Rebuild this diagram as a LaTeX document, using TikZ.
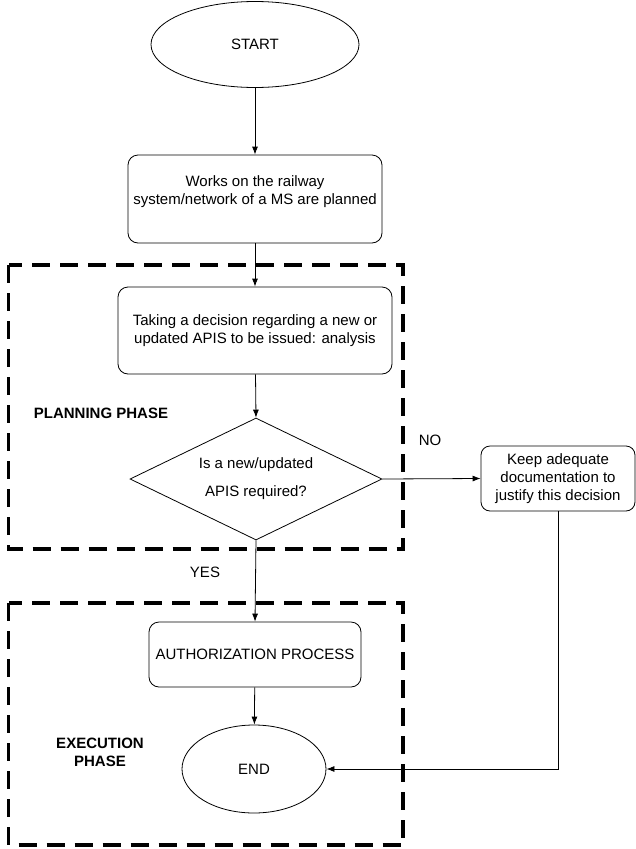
\documentclass[tikz,border=0pt]{standalone}
\usepackage{fontspec}
\setmainfont{Liberation Sans}
\usetikzlibrary{shapes.geometric,arrows.meta}
\begin{document}
\begin{tikzpicture}[x=1pt,y=-1pt,
  every node/.style={font=\fontsize{15}{18}\selectfont, inner sep=0pt},
  flowline/.style={line width=0.8pt},
  arr/.style={flowline,-{Latex[length=8pt,width=6pt]}},
  proc/.style={draw, line width=0.8pt, rounded corners=10pt, align=center},
  term/.style={draw, line width=0.8pt, ellipse},
  decide/.style={draw, line width=0.8pt, diamond, align=center},
  phase/.style={draw, line width=3.5pt, dash pattern=on 18pt off 10pt},
  lbl/.style={font=\bfseries\fontsize{15}{18}\selectfont, align=center}]
\useasboundingbox (0,0) rectangle (636,849);
\fill[white] (0,0) rectangle (636,849);

% phase frames
\draw[phase] (8.5,265) rectangle (403,549);
\draw[phase] (8.5,603) rectangle (403,845);

\node[term, minimum width=208pt, minimum height=86pt] (start) at (255,44.5) {START};
\node[proc, minimum width=254pt, minimum height=88pt] (works) at (255,199) {Works on the railway\\system/network of a MS are planned\\\mbox{}};
\node[proc, minimum width=274pt, minimum height=87pt] (taking) at (255,330.5) {Taking a decision regarding a new or\\updated APIS to be issued: analysis};
\node[decide, minimum width=252pt, minimum height=122pt, aspect=2.07] (dec) at (256,479) {Is a new/updated\\[10pt]APIS required?};
\node[proc, minimum width=154pt, minimum height=65pt, rounded corners=9pt] (keep) at (558,478.5) {Keep adequate\\documentation to\\justify this decision};
\node[proc, minimum width=212pt, minimum height=65pt] (auth) at (255,654.5) {AUTHORIZATION PROCESS};
\node[term, minimum width=144pt, minimum height=88pt] (end) at (254,769) {END};

\node[lbl] (plan) at (101,413) {PLANNING PHASE};
\node[lbl] (exec) at (100,752.5) {EXECUTION\\PHASE};
\node (no) at (430,440) {NO};
\node (yes) at (205,572) {YES};

\draw[arr] (start) -- (works);
\draw[arr] (works) -- (taking);
\draw[arr] (taking) -- (dec.north);
\draw[arr] (dec.east) -- (keep.west);
\draw[arr] (dec.south) -- (auth.north);
\draw[arr] (auth) -- (end);
\coordinate (corner) at (keep.south |- end.east);
\draw[arr] (keep.south) -- (corner) -- (end.east);
\end{tikzpicture}
\end{document}
